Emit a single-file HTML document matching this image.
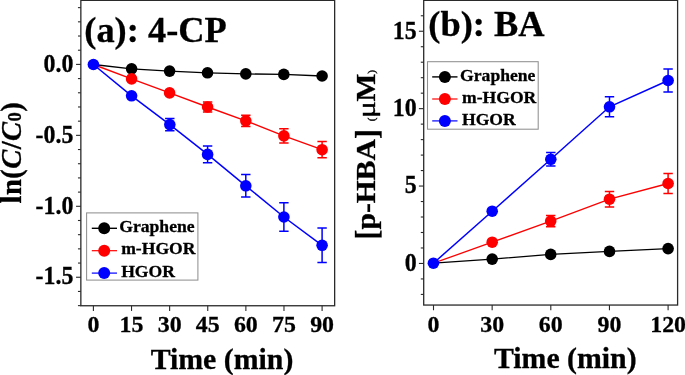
<!DOCTYPE html>
<html><head><meta charset="utf-8"><title>chart</title>
<style>
html,body{margin:0;padding:0;background:#fff;}
body{width:685px;height:375px;overflow:hidden;}
svg{display:block;will-change:transform;}
text{font-family:"Liberation Serif",serif;font-weight:bold;fill:#000;stroke:#000;stroke-width:0.3px;}
</style></head><body>
<svg width="685" height="375" viewBox="0 0 685 375">
<rect x="0" y="0" width="685" height="375" fill="#ffffff"/>
<rect x="80.85" y="0.35" width="253.80" height="305.40" fill="none" stroke="#2a2a2a" stroke-width="1.3"/>
<line x1="76.05" y1="64.40" x2="80.85" y2="64.40" stroke="#2a2a2a" stroke-width="1.1"/>
<line x1="76.05" y1="135.35" x2="80.85" y2="135.35" stroke="#2a2a2a" stroke-width="1.1"/>
<line x1="76.05" y1="206.30" x2="80.85" y2="206.30" stroke="#2a2a2a" stroke-width="1.1"/>
<line x1="76.05" y1="277.25" x2="80.85" y2="277.25" stroke="#2a2a2a" stroke-width="1.1"/>
<line x1="77.95" y1="305.63" x2="80.85" y2="305.63" stroke="#2a2a2a" stroke-width="1.1"/>
<line x1="77.95" y1="7.64" x2="80.85" y2="7.64" stroke="#2a2a2a" stroke-width="1.1"/>
<line x1="77.95" y1="21.83" x2="80.85" y2="21.83" stroke="#2a2a2a" stroke-width="1.1"/>
<line x1="77.95" y1="36.02" x2="80.85" y2="36.02" stroke="#2a2a2a" stroke-width="1.1"/>
<line x1="77.95" y1="50.21" x2="80.85" y2="50.21" stroke="#2a2a2a" stroke-width="1.1"/>
<line x1="77.95" y1="78.59" x2="80.85" y2="78.59" stroke="#2a2a2a" stroke-width="1.1"/>
<line x1="77.95" y1="92.78" x2="80.85" y2="92.78" stroke="#2a2a2a" stroke-width="1.1"/>
<line x1="77.95" y1="106.97" x2="80.85" y2="106.97" stroke="#2a2a2a" stroke-width="1.1"/>
<line x1="77.95" y1="121.16" x2="80.85" y2="121.16" stroke="#2a2a2a" stroke-width="1.1"/>
<line x1="77.95" y1="149.54" x2="80.85" y2="149.54" stroke="#2a2a2a" stroke-width="1.1"/>
<line x1="77.95" y1="163.73" x2="80.85" y2="163.73" stroke="#2a2a2a" stroke-width="1.1"/>
<line x1="77.95" y1="177.92" x2="80.85" y2="177.92" stroke="#2a2a2a" stroke-width="1.1"/>
<line x1="77.95" y1="192.11" x2="80.85" y2="192.11" stroke="#2a2a2a" stroke-width="1.1"/>
<line x1="77.95" y1="220.49" x2="80.85" y2="220.49" stroke="#2a2a2a" stroke-width="1.1"/>
<line x1="77.95" y1="234.68" x2="80.85" y2="234.68" stroke="#2a2a2a" stroke-width="1.1"/>
<line x1="77.95" y1="248.87" x2="80.85" y2="248.87" stroke="#2a2a2a" stroke-width="1.1"/>
<line x1="77.95" y1="263.06" x2="80.85" y2="263.06" stroke="#2a2a2a" stroke-width="1.1"/>
<line x1="77.95" y1="291.44" x2="80.85" y2="291.44" stroke="#2a2a2a" stroke-width="1.1"/>
<line x1="93.40" y1="305.75" x2="93.40" y2="310.95" stroke="#2a2a2a" stroke-width="1.1"/>
<line x1="131.52" y1="305.75" x2="131.52" y2="310.95" stroke="#2a2a2a" stroke-width="1.1"/>
<line x1="169.63" y1="305.75" x2="169.63" y2="310.95" stroke="#2a2a2a" stroke-width="1.1"/>
<line x1="207.75" y1="305.75" x2="207.75" y2="310.95" stroke="#2a2a2a" stroke-width="1.1"/>
<line x1="245.87" y1="305.75" x2="245.87" y2="310.95" stroke="#2a2a2a" stroke-width="1.1"/>
<line x1="283.98" y1="305.75" x2="283.98" y2="310.95" stroke="#2a2a2a" stroke-width="1.1"/>
<line x1="322.10" y1="305.75" x2="322.10" y2="310.95" stroke="#2a2a2a" stroke-width="1.1"/>
<text transform="translate(73.4,71.60) scale(1,1.06)" font-size="23.9" text-anchor="end">0.0</text>
<text transform="translate(73.4,142.55) scale(1,1.06)" font-size="23.9" text-anchor="end">-0.5</text>
<text transform="translate(73.4,213.50) scale(1,1.06)" font-size="23.9" text-anchor="end">-1.0</text>
<text transform="translate(73.4,284.45) scale(1,1.06)" font-size="23.9" text-anchor="end">-1.5</text>
<text transform="translate(93.40,332.0) scale(1,1.005)" font-size="23.9" text-anchor="middle">0</text>
<text transform="translate(131.52,332.0) scale(1,1.005)" font-size="23.9" text-anchor="middle">15</text>
<text transform="translate(169.63,332.0) scale(1,1.005)" font-size="23.9" text-anchor="middle">30</text>
<text transform="translate(207.75,332.0) scale(1,1.005)" font-size="23.9" text-anchor="middle">45</text>
<text transform="translate(245.87,332.0) scale(1,1.005)" font-size="23.9" text-anchor="middle">60</text>
<text transform="translate(283.98,332.0) scale(1,1.005)" font-size="23.9" text-anchor="middle">75</text>
<text transform="translate(322.10,332.0) scale(1,1.005)" font-size="23.9" text-anchor="middle">90</text>
<text x="84.3" y="42.2" font-size="36.4">(a): 4-CP</text>
<text x="222.0" y="369.3" font-size="29.8" text-anchor="middle">Time (min)</text>
<text transform="translate(20.7,203.4) rotate(-90)" font-size="28.6" letter-spacing="0.4">ln(<tspan font-style="italic">C</tspan>/<tspan font-style="italic">C</tspan><tspan font-size="18.5" dy="0.5">0</tspan><tspan dy="-0.5">)</tspan></text>
<path d="M93.40,64.50 L131.60,68.80 L169.60,71.10 L207.50,72.80 L245.80,73.90 L283.80,74.40 L322.10,76.00" fill="none" stroke="#000000" stroke-width="1.3"/>
<circle cx="131.60" cy="68.80" r="5.8" fill="#000000"/>
<circle cx="169.60" cy="71.10" r="5.8" fill="#000000"/>
<circle cx="207.50" cy="72.80" r="5.8" fill="#000000"/>
<circle cx="245.80" cy="73.90" r="5.8" fill="#000000"/>
<circle cx="283.80" cy="74.40" r="5.8" fill="#000000"/>
<circle cx="322.10" cy="76.00" r="5.8" fill="#000000"/>
<path d="M93.40,64.50 L131.60,78.90 L169.60,92.90 L207.60,107.00 L245.80,120.80 L283.90,135.90 L322.10,149.70" fill="none" stroke="#ff0000" stroke-width="1.4"/>
<path d="M207.60,101.90V112.10M202.90,101.90H212.30M202.90,112.10H212.30" fill="none" stroke="#ff0000" stroke-width="1.5"/>
<path d="M245.80,115.20V126.40M241.10,115.20H250.50M241.10,126.40H250.50" fill="none" stroke="#ff0000" stroke-width="1.5"/>
<path d="M283.90,128.80V143.00M279.20,128.80H288.60M279.20,143.00H288.60" fill="none" stroke="#ff0000" stroke-width="1.5"/>
<path d="M322.10,141.60V157.80M317.40,141.60H326.80M317.40,157.80H326.80" fill="none" stroke="#ff0000" stroke-width="1.5"/>
<circle cx="131.60" cy="78.90" r="5.8" fill="#ff0000"/>
<circle cx="169.60" cy="92.90" r="5.8" fill="#ff0000"/>
<circle cx="207.60" cy="107.00" r="5.8" fill="#ff0000"/>
<circle cx="245.80" cy="120.80" r="5.8" fill="#ff0000"/>
<circle cx="283.90" cy="135.90" r="5.8" fill="#ff0000"/>
<circle cx="322.10" cy="149.70" r="5.8" fill="#ff0000"/>
<path d="M93.40,64.50 L131.60,95.80 L169.80,124.60 L207.60,154.40 L245.80,185.80 L283.90,217.00 L322.10,245.30" fill="none" stroke="#0000ff" stroke-width="1.5"/>
<path d="M169.80,118.40V130.80M165.10,118.40H174.50M165.10,130.80H174.50" fill="none" stroke="#0000ff" stroke-width="1.5"/>
<path d="M207.60,146.00V162.80M202.90,146.00H212.30M202.90,162.80H212.30" fill="none" stroke="#0000ff" stroke-width="1.5"/>
<path d="M245.80,174.50V197.10M241.10,174.50H250.50M241.10,197.10H250.50" fill="none" stroke="#0000ff" stroke-width="1.5"/>
<path d="M283.90,202.80V231.20M279.20,202.80H288.60M279.20,231.20H288.60" fill="none" stroke="#0000ff" stroke-width="1.5"/>
<path d="M322.10,228.10V262.50M317.40,228.10H326.80M317.40,262.50H326.80" fill="none" stroke="#0000ff" stroke-width="1.5"/>
<circle cx="93.40" cy="64.50" r="5.8" fill="#0000ff"/>
<circle cx="131.60" cy="95.80" r="5.8" fill="#0000ff"/>
<circle cx="169.80" cy="124.60" r="5.8" fill="#0000ff"/>
<circle cx="207.60" cy="154.40" r="5.8" fill="#0000ff"/>
<circle cx="245.80" cy="185.80" r="5.8" fill="#0000ff"/>
<circle cx="283.90" cy="217.00" r="5.8" fill="#0000ff"/>
<circle cx="322.10" cy="245.30" r="5.8" fill="#0000ff"/>
<rect x="86.6" y="212.9" width="111.30" height="67.20" fill="#fff" stroke="#909090" stroke-width="1.05"/>
<line x1="91.8" y1="228.3" x2="117.0" y2="228.3" stroke="#000000" stroke-width="1.4"/>
<circle cx="104.2" cy="228.3" r="6.0" fill="#000000"/>
<text x="119.3" y="231.8" font-size="17.6">Graphene</text>
<line x1="91.8" y1="250.7" x2="117.0" y2="250.7" stroke="#ff0000" stroke-width="1.2"/>
<circle cx="104.2" cy="250.7" r="6.0" fill="#ff0000"/>
<text x="121.2" y="254.2" font-size="17.6">m-HGOR</text>
<line x1="91.8" y1="273.1" x2="117.0" y2="273.1" stroke="#0000ff" stroke-width="1.2"/>
<circle cx="104.2" cy="273.1" r="6.0" fill="#0000ff"/>
<text x="121.2" y="276.6" font-size="17.6">HGOR</text>
<rect x="423.7" y="0.35" width="253.90" height="304.70" fill="none" stroke="#2a2a2a" stroke-width="1.3"/>
<line x1="418.90" y1="263.45" x2="423.7" y2="263.45" stroke="#2a2a2a" stroke-width="1.1"/>
<line x1="418.90" y1="186.05" x2="423.7" y2="186.05" stroke="#2a2a2a" stroke-width="1.1"/>
<line x1="418.90" y1="108.65" x2="423.7" y2="108.65" stroke="#2a2a2a" stroke-width="1.1"/>
<line x1="418.90" y1="31.25" x2="423.7" y2="31.25" stroke="#2a2a2a" stroke-width="1.1"/>
<line x1="420.80" y1="294.41" x2="423.7" y2="294.41" stroke="#2a2a2a" stroke-width="1.1"/>
<line x1="420.80" y1="278.93" x2="423.7" y2="278.93" stroke="#2a2a2a" stroke-width="1.1"/>
<line x1="420.80" y1="247.97" x2="423.7" y2="247.97" stroke="#2a2a2a" stroke-width="1.1"/>
<line x1="420.80" y1="232.49" x2="423.7" y2="232.49" stroke="#2a2a2a" stroke-width="1.1"/>
<line x1="420.80" y1="217.01" x2="423.7" y2="217.01" stroke="#2a2a2a" stroke-width="1.1"/>
<line x1="420.80" y1="201.53" x2="423.7" y2="201.53" stroke="#2a2a2a" stroke-width="1.1"/>
<line x1="420.80" y1="170.57" x2="423.7" y2="170.57" stroke="#2a2a2a" stroke-width="1.1"/>
<line x1="420.80" y1="155.09" x2="423.7" y2="155.09" stroke="#2a2a2a" stroke-width="1.1"/>
<line x1="420.80" y1="139.61" x2="423.7" y2="139.61" stroke="#2a2a2a" stroke-width="1.1"/>
<line x1="420.80" y1="124.13" x2="423.7" y2="124.13" stroke="#2a2a2a" stroke-width="1.1"/>
<line x1="420.80" y1="93.17" x2="423.7" y2="93.17" stroke="#2a2a2a" stroke-width="1.1"/>
<line x1="420.80" y1="77.69" x2="423.7" y2="77.69" stroke="#2a2a2a" stroke-width="1.1"/>
<line x1="420.80" y1="62.21" x2="423.7" y2="62.21" stroke="#2a2a2a" stroke-width="1.1"/>
<line x1="420.80" y1="46.73" x2="423.7" y2="46.73" stroke="#2a2a2a" stroke-width="1.1"/>
<line x1="420.80" y1="15.77" x2="423.7" y2="15.77" stroke="#2a2a2a" stroke-width="1.1"/>
<line x1="433.50" y1="305.05" x2="433.50" y2="310.25" stroke="#2a2a2a" stroke-width="1.1"/>
<line x1="492.15" y1="305.05" x2="492.15" y2="310.25" stroke="#2a2a2a" stroke-width="1.1"/>
<line x1="550.80" y1="305.05" x2="550.80" y2="310.25" stroke="#2a2a2a" stroke-width="1.1"/>
<line x1="609.45" y1="305.05" x2="609.45" y2="310.25" stroke="#2a2a2a" stroke-width="1.1"/>
<line x1="668.10" y1="305.05" x2="668.10" y2="310.25" stroke="#2a2a2a" stroke-width="1.1"/>
<text transform="translate(416.6,270.75) scale(1,1.06)" font-size="23.9" text-anchor="end">0</text>
<text transform="translate(416.6,193.35) scale(1,1.06)" font-size="23.9" text-anchor="end">5</text>
<text transform="translate(416.6,115.95) scale(1,1.06)" font-size="23.9" text-anchor="end">10</text>
<text transform="translate(416.6,38.55) scale(1,1.06)" font-size="23.9" text-anchor="end">15</text>
<text transform="translate(433.50,331.6) scale(1,1.005)" font-size="23.9" text-anchor="middle">0</text>
<text transform="translate(492.15,331.6) scale(1,1.005)" font-size="23.9" text-anchor="middle">30</text>
<text transform="translate(550.80,331.6) scale(1,1.005)" font-size="23.9" text-anchor="middle">60</text>
<text transform="translate(609.45,331.6) scale(1,1.005)" font-size="23.9" text-anchor="middle">90</text>
<text transform="translate(668.10,331.6) scale(1,1.005)" font-size="23.9" text-anchor="middle">120</text>
<text x="428.3" y="36.4" font-size="36.4">(b): BA</text>
<text x="565.3" y="368.2" font-size="29.8" text-anchor="middle">Time (min)</text>
<text transform="translate(376.5,239.4) rotate(-90) scale(1.046,1.107)" font-size="28.3">[</text>
<text transform="translate(374.5,229.54) rotate(-90) scale(1.046,1)" font-size="28.3" >p-HBA</text>
<text transform="translate(376.5,139.08) rotate(-90) scale(1.046,1.107)" font-size="28.3">]</text>
<text transform="translate(375.4,121.3) rotate(-90) scale(1.0,1)" font-size="11.2" style="font-weight:normal;stroke-width:0.35px">(</text>
<text transform="translate(374.8,118.0) rotate(-90) scale(1.3,1)" font-size="24.2" style="font-weight:normal;stroke-width:0.4px">μ</text>
<text transform="translate(374.5,101.4) rotate(-90) scale(1.046,1)" font-size="28.3" >M</text>
<text transform="translate(375.4,73.7) rotate(-90) scale(1.0,1)" font-size="11.2" style="font-weight:normal;stroke-width:0.35px">)</text>
<path d="M433.40,263.20 L492.20,259.10 L550.70,254.40 L609.50,251.40 L668.10,248.60" fill="none" stroke="#000000" stroke-width="1.3"/>
<circle cx="492.20" cy="259.10" r="5.8" fill="#000000"/>
<circle cx="550.70" cy="254.40" r="5.8" fill="#000000"/>
<circle cx="609.50" cy="251.40" r="5.8" fill="#000000"/>
<circle cx="668.10" cy="248.60" r="5.8" fill="#000000"/>
<path d="M433.40,263.20 L492.20,242.20 L550.70,221.10 L609.50,199.20 L668.10,183.50" fill="none" stroke="#ff0000" stroke-width="1.3"/>
<path d="M550.70,215.50V226.70M546.00,215.50H555.40M546.00,226.70H555.40" fill="none" stroke="#ff0000" stroke-width="1.5"/>
<path d="M609.50,191.40V207.00M604.80,191.40H614.20M604.80,207.00H614.20" fill="none" stroke="#ff0000" stroke-width="1.5"/>
<path d="M668.10,173.50V193.50M663.40,173.50H672.80M663.40,193.50H672.80" fill="none" stroke="#ff0000" stroke-width="1.5"/>
<circle cx="492.20" cy="242.20" r="5.8" fill="#ff0000"/>
<circle cx="550.70" cy="221.10" r="5.8" fill="#ff0000"/>
<circle cx="609.50" cy="199.20" r="5.8" fill="#ff0000"/>
<circle cx="668.10" cy="183.50" r="5.8" fill="#ff0000"/>
<path d="M433.40,263.20 L492.20,211.20 L550.80,159.30 L609.50,106.80 L668.10,80.50" fill="none" stroke="#0000ff" stroke-width="1.5"/>
<path d="M550.80,152.50V166.10M546.10,152.50H555.50M546.10,166.10H555.50" fill="none" stroke="#0000ff" stroke-width="1.5"/>
<path d="M609.50,96.80V116.80M604.80,96.80H614.20M604.80,116.80H614.20" fill="none" stroke="#0000ff" stroke-width="1.5"/>
<path d="M668.10,69.00V92.00M663.40,69.00H672.80M663.40,92.00H672.80" fill="none" stroke="#0000ff" stroke-width="1.5"/>
<circle cx="433.40" cy="263.20" r="5.8" fill="#0000ff"/>
<circle cx="492.20" cy="211.20" r="5.8" fill="#0000ff"/>
<circle cx="550.80" cy="159.30" r="5.8" fill="#0000ff"/>
<circle cx="609.50" cy="106.80" r="5.8" fill="#0000ff"/>
<circle cx="668.10" cy="80.50" r="5.8" fill="#0000ff"/>
<rect x="427.5" y="61.7" width="110.70" height="67.50" fill="#fff" stroke="#909090" stroke-width="1.05"/>
<line x1="432.2" y1="76.9" x2="457.5" y2="76.9" stroke="#000000" stroke-width="1.4"/>
<circle cx="444.9" cy="76.9" r="6.0" fill="#000000"/>
<text x="460.1" y="80.5" font-size="17.6">Graphene</text>
<line x1="432.2" y1="99.0" x2="457.5" y2="99.0" stroke="#ff0000" stroke-width="1.2"/>
<circle cx="444.9" cy="99.0" r="6.0" fill="#ff0000"/>
<text x="462.0" y="102.5" font-size="17.6">m-HGOR</text>
<line x1="432.2" y1="120.9" x2="457.5" y2="120.9" stroke="#0000ff" stroke-width="1.2"/>
<circle cx="444.9" cy="120.9" r="6.0" fill="#0000ff"/>
<text x="462.0" y="124.9" font-size="17.6">HGOR</text>
</svg>
</body></html>
